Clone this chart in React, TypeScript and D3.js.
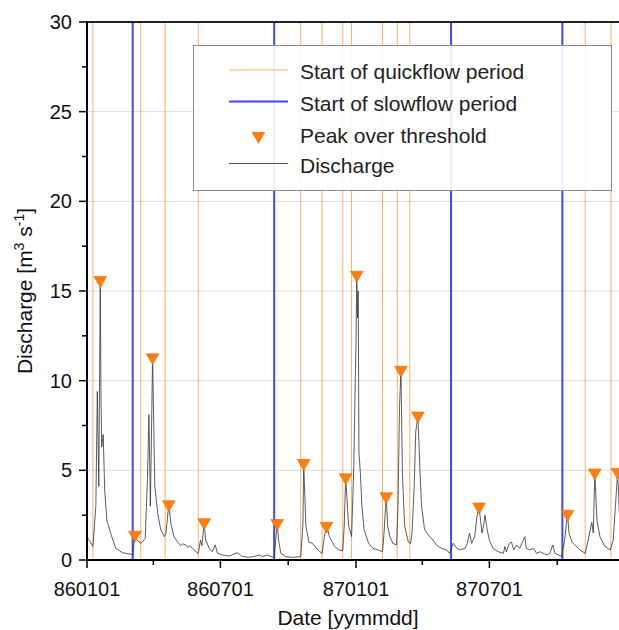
import React from "react";
import * as d3 from "d3";

// Daily discharge [yymmdd, m3/s]
const dischargeSeries: [string, number][] = [
  ["860101", 1.3], ["860104", 1.1], ["860109", 0.75], ["860113", 3.0], ["860115", 9.4],
  ["860117", 4.1], ["860119", 15.6], ["860120", 9.0], ["860121", 6.3], ["860123", 7.0],
  ["860125", 3.9], ["860128", 2.2], ["860202", 1.5], ["860209", 0.65], ["860218", 0.41],
  ["860301", 0.33], ["860304", 0.28], ["860307", 1.4], ["860310", 1.1], ["860315", 0.93],
  ["860321", 1.2], ["860324", 4.5], ["860326", 8.1], ["860328", 3.0], ["860331", 11.3],
  ["860403", 4.1], ["860407", 2.6], ["860411", 1.7], ["860416", 1.3], ["860418", 1.45],
  ["860422", 3.1], ["860425", 2.0], ["860429", 1.3], ["860504", 1.0], ["860508", 0.8],
  ["860511", 0.9], ["860515", 0.84], ["860518", 0.7], ["860520", 0.8], ["860524", 0.65],
  ["860529", 0.46], ["860601", 0.37], ["860604", 1.1], ["860606", 0.8], ["860609", 2.1],
  ["860611", 1.1], ["860616", 0.65], ["860620", 0.46], ["860624", 0.84], ["860627", 0.37],
  ["860704", 0.28], ["860713", 0.22], ["860724", 0.41], ["860731", 0.19], ["860809", 0.15],
  ["860818", 0.22], ["860823", 0.28], ["860827", 0.19], ["860903", 0.28], ["860908", 0.19],
  ["860912", 0.15], ["860914", 1.1], ["860916", 2.05], ["860918", 1.1], ["860921", 0.37],
  ["860928", 0.19], ["861007", 0.15], ["861018", 0.19], ["861021", 2.0], ["861022", 5.4],
  ["861025", 1.9], ["861029", 1.0], ["861103", 0.93], ["861110", 0.56], ["861116", 0.37],
  ["861119", 1.3], ["861122", 1.9], ["861126", 1.3], ["861203", 0.75], ["861209", 0.56],
  ["861214", 0.52], ["861216", 1.9], ["861218", 4.6], ["861222", 1.9], ["861226", 1.3],
  ["861229", 5.2], ["861231", 10.0], ["870101", 12.0], ["870102", 15.9], ["870103", 13.5],
  ["870104", 15.0], ["870105", 6.0], ["870107", 4.8], ["870109", 3.0], ["870112", 1.7],
  ["870118", 0.93], ["870124", 0.65], ["870131", 0.56], ["870206", 0.46], ["870208", 1.5],
  ["870211", 3.55], ["870213", 1.9], ["870216", 1.3], ["870220", 0.93], ["870225", 0.84],
  ["870227", 3.0], ["870301", 8.5], ["870303", 10.6], ["870305", 4.8], ["870308", 1.9],
  ["870313", 1.0], ["870316", 0.93], ["870318", 1.5], ["870321", 4.1], ["870323", 7.1],
  ["870326", 8.05], ["870329", 4.8], ["870331", 3.0], ["870404", 1.7], ["870411", 1.3],
  ["870416", 1.1], ["870420", 0.84], ["870427", 0.65], ["870504", 0.56], ["870508", 0.37],
  ["870513", 0.93], ["870518", 0.65], ["870522", 0.56], ["870529", 0.65], ["870601", 0.93],
  ["870604", 1.5], ["870607", 0.93], ["870611", 1.3], ["870614", 2.4], ["870617", 2.97],
  ["870619", 2.2], ["870621", 1.5], ["870623", 1.9], ["870625", 2.5], ["870628", 1.7],
  ["870701", 1.1], ["870706", 0.65], ["870713", 0.46], ["870720", 0.37], ["870722", 0.75],
  ["870724", 0.46], ["870728", 0.93], ["870731", 1.0], ["870803", 0.56], ["870807", 0.84],
  ["870811", 0.65], ["870816", 1.1], ["870818", 1.3], ["870820", 0.65], ["870825", 0.56],
  ["870830", 0.65], ["870903", 0.37], ["870908", 0.46], ["870912", 0.37], ["870917", 0.28],
  ["870921", 0.37], ["870925", 0.84], ["870928", 0.37], ["871003", 0.28], ["871007", 0.19],
  ["871011", 1.1], ["871015", 2.57], ["871017", 1.5], ["871021", 1.0], ["871025", 0.84],
  ["871101", 0.56], ["871108", 0.37], ["871112", 1.1], ["871117", 2.1], ["871119", 1.5],
  ["871121", 4.87], ["871124", 2.2], ["871128", 1.3], ["871205", 0.75], ["871212", 0.56],
  ["871216", 1.1], ["871222", 4.9], ["871225", 2.0], ["871228", 1.3], ["871231", 1.0],
];

// Peaks over threshold
const peakSeries: [string, number][] = [
  ["860119", 15.6], ["860307", 1.4], ["860331", 11.3], ["860422", 3.1], ["860609", 2.1],
  ["860916", 2.05], ["861022", 5.4], ["861122", 1.9], ["861218", 4.6], ["870102", 15.9],
  ["870211", 3.55], ["870303", 10.6], ["870326", 8.05], ["870617", 2.97], ["871015", 2.57],
  ["871121", 4.87], ["871222", 4.9],
];

const quickflowStarts = [
  "860109", "860315", "860417", "860601", "861018", "861116", "861214", "861226",
  "870206", "870226", "870315", "871108", "871213",
];
const slowflowStarts = ["860304", "860912", "870510", "871008"];

const yTicks = [0, 5, 10, 15, 20, 25, 30];
const yMinorTicks = [2.5, 7.5, 12.5, 17.5, 22.5, 27.5];
const xTicks = ["860101", "860701", "870101", "870701"];
const xMinorTicks = ["860401", "861001", "870401", "871001"];
const xDomain = ["860101", "880101"];
const legendLabels = [
  "Start of quickflow period",
  "Start of slowflow period",
  "Peak over threshold",
  "Discharge",
];

const FONT = "'Liberation Sans', Arial, sans-serif";
const QUICK = "#ff8c1a";
const SLOW = "#2f2fff";
const PEAK = "#ff7f0e";

export default function App() {
  const W = 619;
  const H = 630;
  const parse = d3.timeParse("%y%m%d");
  const fmt = d3.timeFormat("%y%m%d");
  const left = 87, right = 625, top = 22, bottom = 560;

  const x = d3
    .scaleTime()
    .domain([parse(xDomain[0]) as Date, parse(xDomain[1]) as Date])
    .range([left, right]);
  const y = d3.scaleLinear().domain([0, 30]).range([bottom, top]);

  const line = d3
    .line<[string, number]>()
    .x((d) => x(parse(d[0]) as Date))
    .y((d) => y(d[1]));

  const tri = d3.symbol().type(d3.symbolTriangle).size(70)() as string;

  const legX1 = 229, legX2 = 288, textX = 300;
  const rows = [70, 101.5, 136, 163.5];
  const baselines = [78.5, 111, 143, 173];

  return (
    <svg
      width={W}
      height={H}
      style={{ position: "absolute", left: 0, top: 0, background: "#fff" }}
      fontFamily={FONT}
    >
      <defs>
        <clipPath id="plot">
          <rect x={left} y={top} width={right - left} height={bottom - top} />
        </clipPath>
      </defs>
      <rect x={0} y={0} width={W} height={H} fill="#fff" />

      {/* grid */}
      {yTicks.slice(1, -1).map((t) => (
        <line key={"g" + t} x1={left} x2={right} y1={y(t)} y2={y(t)} stroke="#dcdcdc" strokeWidth={1} />
      ))}

      <g clipPath="url(#plot)">
        {quickflowStarts.map((d) => (
          <line
            key={"q" + d}
            x1={x(parse(d) as Date)}
            x2={x(parse(d) as Date)}
            y1={top}
            y2={bottom}
            stroke={QUICK}
            strokeOpacity={0.7}
            strokeWidth={1}
          />
        ))}
        {slowflowStarts.map((d) => (
          <line
            key={"s" + d}
            x1={x(parse(d) as Date)}
            x2={x(parse(d) as Date)}
            y1={top}
            y2={bottom}
            stroke={SLOW}
            strokeOpacity={0.9}
            strokeWidth={2}
          />
        ))}
        <path d={line(dischargeSeries) as string} fill="none" stroke="#333" strokeWidth={0.8} />
        {peakSeries.map((d) => (
          <path
            key={"p" + d[0]}
            d={tri}
            transform={`translate(${x(parse(d[0]) as Date)},${y(d[1])}) rotate(180)`}
            fill={PEAK}
            stroke="#e86a00"
            strokeWidth={0.6}
          />
        ))}
      </g>

      {/* legend */}
      <g>
        <rect x={193.5} y={45.5} width={418} height={145} fill="#fff" fillOpacity={0.9} stroke="#8a8a8a" strokeWidth={1} />
        <line x1={legX1} x2={legX2} y1={rows[0]} y2={rows[0]} stroke={QUICK} strokeOpacity={0.7} strokeWidth={1} />
        <line x1={legX1} x2={legX2} y1={rows[1]} y2={rows[1]} stroke={SLOW} strokeOpacity={0.9} strokeWidth={2} />
        <path d={tri} transform={`translate(${(legX1 + legX2) / 2},${rows[2]}) rotate(180)`} fill={PEAK} stroke="#e86a00" strokeWidth={0.6} />
        <line x1={legX1} x2={legX2} y1={rows[3]} y2={rows[3]} stroke="#555" strokeWidth={1} />
        {legendLabels.map((l, i) => (
          <text key={l} x={textX} y={baselines[i]} fontSize={21} fill="#222">
            {l}
          </text>
        ))}
      </g>

      {/* axes */}
      <line x1={left} x2={right} y1={top} y2={top} stroke="#222" strokeWidth={2} />
      <line x1={left} x2={left} y1={top - 1} y2={bottom + 1} stroke="#000" strokeWidth={2} />
      <line x1={left - 1} x2={right} y1={bottom} y2={bottom} stroke="#000" strokeWidth={2} />

      {yTicks.map((t) => (
        <g key={"yt" + t}>
          <line x1={left - 8} x2={left} y1={y(t)} y2={y(t)} stroke="#000" strokeWidth={1.5} />
          <text x={left - 15} y={y(t) + 7} fontSize={20} textAnchor="end" fill="#111">
            {t}
          </text>
        </g>
      ))}
      {yMinorTicks.map((t) => (
        <line key={"ym" + t} x1={left - 5} x2={left} y1={y(t)} y2={y(t)} stroke="#000" strokeWidth={1.5} />
      ))}
      {xTicks.map((t) => {
        const xx = x(parse(t) as Date);
        return (
          <g key={"xt" + t}>
            <line x1={xx} x2={xx} y1={bottom} y2={bottom + 8} stroke="#000" strokeWidth={1.5} />
            <text x={xx} y={596} fontSize={20} textAnchor="middle" fill="#111">
              {fmt(parse(t) as Date)}
            </text>
          </g>
        );
      })}
      {xMinorTicks.map((t) => {
        const xx = x(parse(t) as Date);
        return <line key={"xm" + t} x1={xx} x2={xx} y1={bottom} y2={bottom + 5} stroke="#000" strokeWidth={1.5} />;
      })}

      <text x={348} y={625} fontSize={21} textAnchor="middle" fill="#111">
        Date [yymmdd]
      </text>
      <text transform={`translate(32,${(top + bottom) / 2}) rotate(-90)`} fontSize={21} textAnchor="middle" fill="#111">
        Discharge [m
        <tspan dy={-8} fontSize={14}>3</tspan>
        <tspan dy={8}> s</tspan>
        <tspan dy={-8} fontSize={14}>-1</tspan>
        <tspan dy={8}>]</tspan>
      </text>
    </svg>
  );
}
